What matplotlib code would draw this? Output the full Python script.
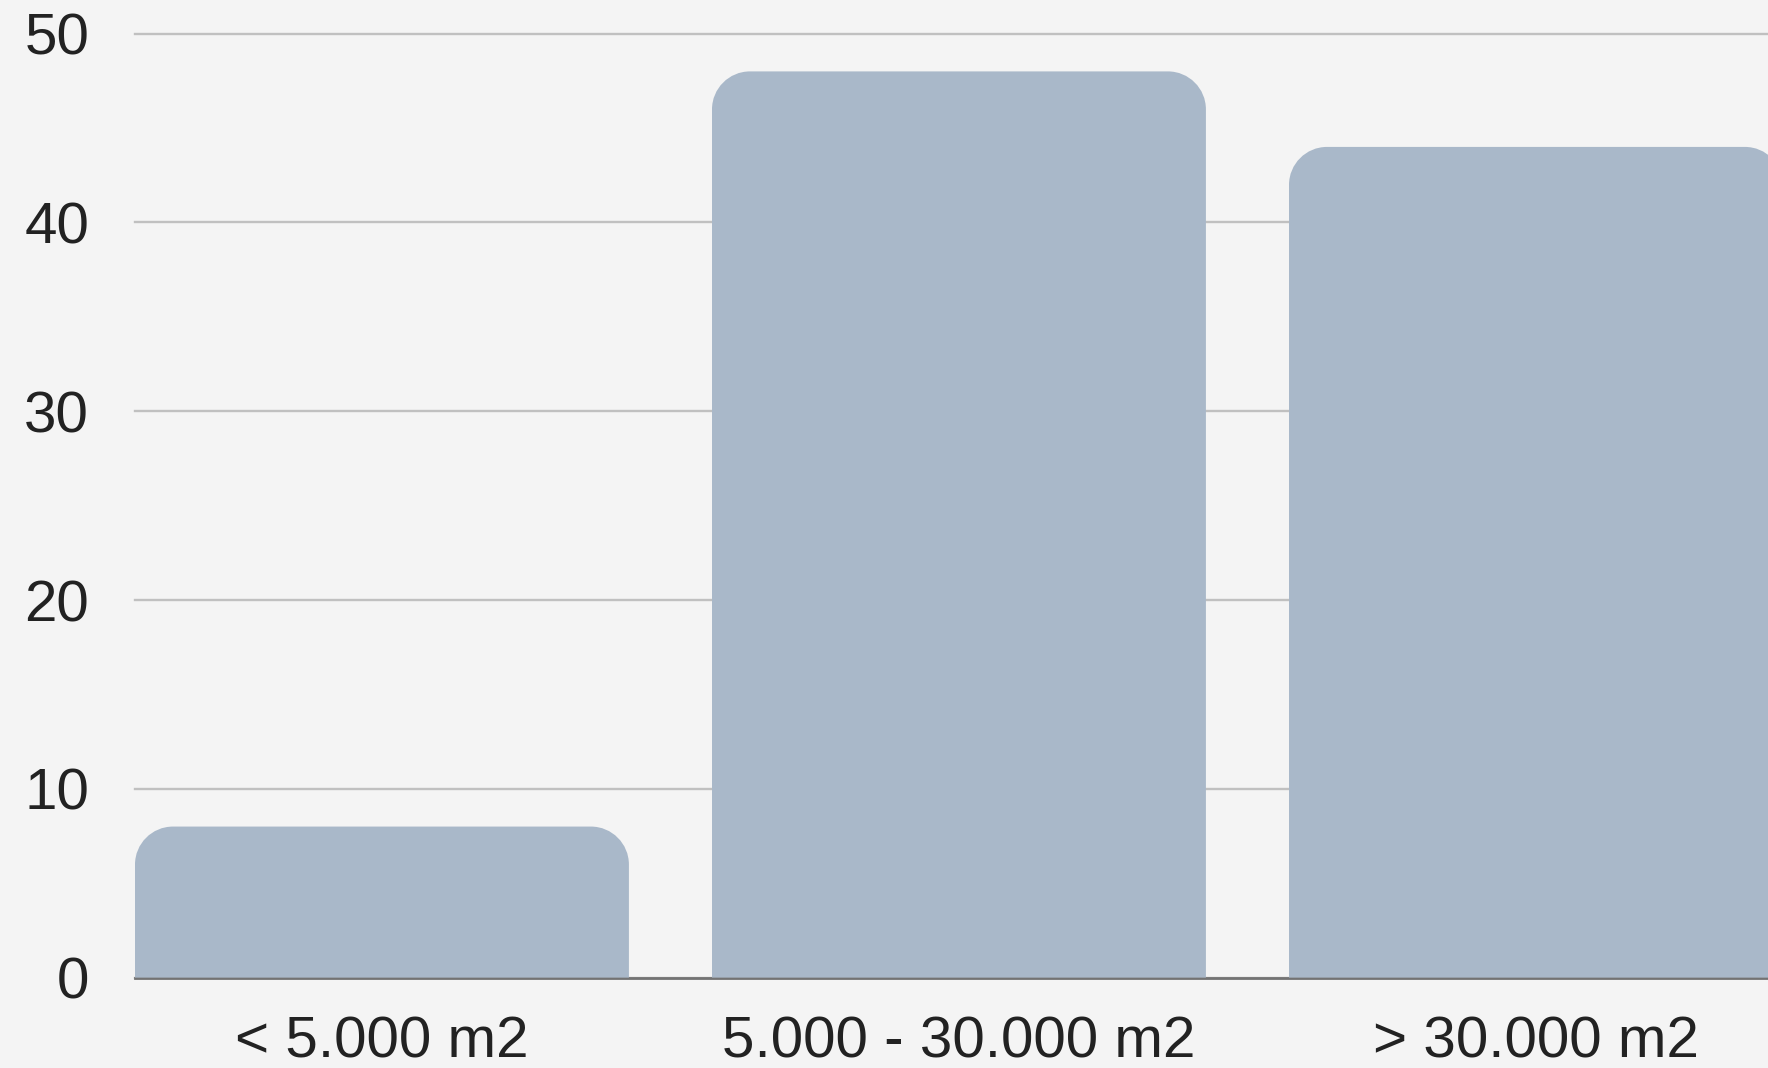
import matplotlib
matplotlib.use("Agg")
import matplotlib.pyplot as plt
from matplotlib.path import Path
from matplotlib.patches import PathPatch

categories = ["< 5.000 m2", "5.000 - 30.000 m2", "> 30.000 m2"]
values = [8, 48, 44]
yticks = [0, 10, 20, 30, 40, 50]

plt.rcParams['font.family'] = ['Liberation Sans', 'DejaVu Sans']

W, H, DPI = 1768, 1068, 100
fig = plt.figure(figsize=(W / DPI, H / DPI), dpi=DPI, facecolor="#f4f4f4")
left_px, zero_px, top_px = 135, 977.6, 32.7
ax = fig.add_axes([left_px / W, (H - zero_px) / H, 1 - left_px / W, (zero_px - top_px) / H])
ax.set_facecolor("#f4f4f4")

bw = 0.856
x = list(range(len(categories)))
bars = ax.bar(x, values, width=bw, color="#a9b8c9", zorder=2)
ax.set_xlim(-bw / 2, -bw / 2 + (W - left_px) / 577.0)
ax.set_ylim(0, 50.05)

# rounded top corners (radius in pixels -> data units)
rad_px = 38
px_per_x = 577.0
px_per_y = (zero_px - top_px) / 50.05
rx = rad_px / px_per_x
ry = rad_px / px_per_y
k = 0.5523
for r in bars:
    x0, y0 = r.get_x(), r.get_y()
    x1, y1 = x0 + r.get_width(), y0 + r.get_height()
    verts = [
        (x0, y0),
        (x0, y1 - ry),
        (x0, y1 - ry + k * ry), (x0 + rx - k * rx, y1), (x0 + rx, y1),
        (x1 - rx, y1),
        (x1 - rx + k * rx, y1), (x1, y1 - ry + k * ry), (x1, y1 - ry),
        (x1, y0),
        (x0, y0),
    ]
    codes = [Path.MOVETO, Path.LINETO,
             Path.CURVE4, Path.CURVE4, Path.CURVE4,
             Path.LINETO,
             Path.CURVE4, Path.CURVE4, Path.CURVE4,
             Path.LINETO, Path.CLOSEPOLY]
    patch = PathPatch(Path(verts, codes), facecolor=r.get_facecolor(), edgecolor="none", zorder=2)
    r.set_visible(False)
    ax.add_patch(patch)

ax.set_yticks(yticks)
ax.set_yticklabels([str(t) for t in yticks])
ax.yaxis.grid(True, color="#c0c0c0", linewidth=1.7, zorder=1)
ax.set_axisbelow(True)
for t in ax.yaxis.get_gridlines():
    t.set_clip_on(False)
ax.axhline(0, color="#737373", linewidth=2.0, zorder=1.5, clip_on=False)

ax.set_xticks(x)
ax.set_xticklabels(categories)
ax.tick_params(axis="both", length=0, labelsize=42, labelcolor="#222222")
ax.tick_params(axis="y", pad=33)
ax.tick_params(axis="x", pad=27)
for s in ax.spines.values():
    s.set_visible(False)

fig.savefig("out.png", dpi=DPI, facecolor=fig.get_facecolor())
